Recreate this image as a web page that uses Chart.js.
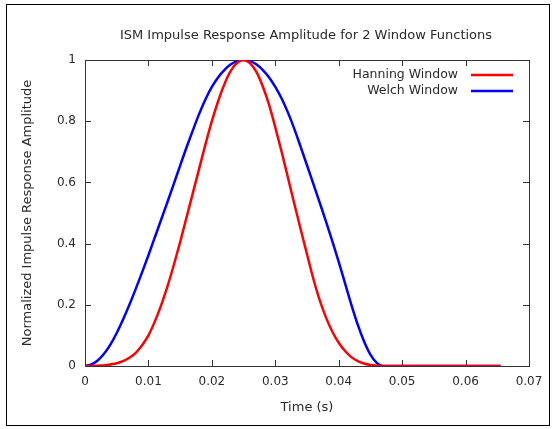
<!DOCTYPE html>
<html>
<head>
<meta charset="utf-8">
<script src="https://cdn.jsdelivr.net/npm/chart.js@4.4.1/dist/chart.umd.min.js"></script>
<style>
  body { margin: 0; background: #fff; }
</style>
</head>
<body>
<canvas id="myChart" width="555" height="429"></canvas>
<script>
// time axis (s)
const times = [0, 0.001, 0.002, 0.003, 0.004, 0.005, 0.006, 0.007, 0.008, 0.009,
  0.010, 0.011, 0.012, 0.013, 0.014, 0.015, 0.016, 0.017, 0.018, 0.019,
  0.020, 0.021, 0.022, 0.023, 0.024, 0.025, 0.026, 0.027, 0.028, 0.029,
  0.030, 0.031, 0.032, 0.033, 0.034, 0.035, 0.036, 0.037, 0.038, 0.039,
  0.040, 0.041, 0.042, 0.043, 0.044, 0.045, 0.046, 0.047, 0.048, 0.049,
  0.050, 0.051, 0.052, 0.053, 0.054, 0.055, 0.056, 0.057, 0.058, 0.059,
  0.060, 0.061, 0.062, 0.063, 0.064, 0.065, 0.0655];

const hanning = [0, 0, 0.001, 0.002, 0.005, 0.009, 0.016, 0.027, 0.043, 0.068,
  0.1, 0.145, 0.198, 0.26, 0.33, 0.405, 0.485, 0.565, 0.645, 0.725,
  0.8, 0.866, 0.922, 0.965, 0.991, 1.0, 0.99, 0.962, 0.915, 0.855,
  0.78, 0.7, 0.615, 0.53, 0.447, 0.365, 0.285, 0.215, 0.158, 0.112,
  0.076, 0.049, 0.029, 0.016, 0.008, 0.003, 0.001, 0, 0, 0,
  0, 0, 0, 0, 0, 0, 0, 0, 0, 0,
  0, 0, 0, 0, 0, 0, 0];

const welch = [0, 0.005, 0.018, 0.04, 0.07, 0.108, 0.152, 0.2, 0.252, 0.306,
  0.362, 0.42, 0.478, 0.536, 0.595, 0.655, 0.714, 0.77, 0.824, 0.872,
  0.912, 0.944, 0.968, 0.986, 0.9965, 1.0, 0.9965, 0.986, 0.968, 0.944,
  0.912, 0.874, 0.828, 0.775, 0.716, 0.656, 0.595, 0.534, 0.472, 0.407,
  0.34, 0.27, 0.2, 0.135, 0.08, 0.037, 0.01, 0, 0, 0,
  0, 0, 0, 0, 0, 0, 0, 0, 0, 0,
  0, 0, 0, 0, 0, 0, 0];

const xTicks = [0, 0.01, 0.02, 0.03, 0.04, 0.05, 0.06, 0.07];
const yTicks = [0, 0.2, 0.4, 0.6, 0.8, 1];

const FONT = 'DejaVu Sans';
const TEXT = '#2a2a2a';

function points(vals) {
  return times.map((t, i) => ({ x: t, y: vals[i] }));
}

// box, inward ticks, outer frame
const framePlugin = {
  id: 'frame',
  beforeDatasetsDraw(chart) {
    const { ctx, chartArea: a, scales: { x, y } } = chart;
    ctx.save();
    ctx.strokeStyle = '#333';
    ctx.lineWidth = 1;
    ctx.strokeRect(a.left + 0.5, a.top + 0.5, a.right - a.left, a.bottom - a.top);
    ctx.beginPath();
    xTicks.forEach(v => {
      const px = Math.round(x.getPixelForValue(v)) + 0.5;
      ctx.moveTo(px, a.bottom); ctx.lineTo(px, a.bottom - 6);
      ctx.moveTo(px, a.top); ctx.lineTo(px, a.top + 6);
    });
    yTicks.forEach(v => {
      const py = Math.round(y.getPixelForValue(v)) + 0.5;
      ctx.moveTo(a.left, py); ctx.lineTo(a.left + 6, py);
      ctx.moveTo(a.right, py); ctx.lineTo(a.right - 6, py);
    });
    ctx.stroke();
    ctx.strokeStyle = '#000';
    ctx.strokeRect(6.5, 4.5, 543, 421);
    ctx.restore();
  },
  afterDraw(chart) {
    const { ctx, chartArea: a } = chart;
    ctx.save();
    ctx.fillStyle = TEXT;
    ctx.font = '13px "' + FONT + '"';
    ctx.textAlign = 'center';
    ctx.textBaseline = 'middle';
    ctx.fillText('ISM Impulse Response Amplitude for 2 Window Functions', (a.left + a.right) / 2 - 1, 36);
    // legend
    ctx.font = '12.5px "' + FONT + '"';
    ctx.textAlign = 'right';
    chart.data.datasets.forEach((ds, i) => {
      const yy = a.top + 15 + i * 16;
      ctx.fillStyle = TEXT;
      ctx.fillText(ds.label, a.right - 71, yy);
      ctx.strokeStyle = ds.borderColor;
      ctx.lineWidth = 2.5;
      ctx.beginPath();
      ctx.moveTo(a.right - 58, yy);
      ctx.lineTo(a.right - 16, yy);
      ctx.stroke();
    });
    ctx.restore();
  }
};

const ctx = document.getElementById('myChart');
const myChart = new Chart(ctx, {
  type: 'scatter',
  data: {
    datasets: [{
      label: 'Hanning Window',
      data: points(hanning),
      borderColor: '#ff0000',
      borderWidth: 2.5,
      showLine: true,
      pointRadius: 0,
      cubicInterpolationMode: 'monotone'
    }, {
      label: 'Welch Window',
      data: points(welch),
      borderColor: '#0000ff',
      borderWidth: 2.5,
      showLine: true,
      pointRadius: 0,
      cubicInterpolationMode: 'monotone'
    }]
  },
  options: {
    responsive: false,
    animation: false,
    layout: { padding: { top: 60, right: 26, bottom: 0, left: 0 } },
    plugins: {
      legend: { display: false },
      title: { display: false },
      tooltip: { enabled: false }
    },
    scales: {
      x: {
        type: 'linear',
        min: 0,
        max: 0.07,
        afterFit(scale) { scale.height = 63; },
        afterBuildTicks(scale) { scale.ticks = xTicks.map(v => ({ value: v })); },
        grid: { display: false, drawTicks: false },
        border: { display: false },
        ticks: {
          padding: 9,
          color: TEXT,
          font: { family: FONT, size: 12 },
          maxRotation: 0,
          callback: v => String(+v.toFixed(2))
        },
        title: {
          display: true,
          text: 'Time (s)',
          color: TEXT,
          font: { family: FONT, size: 13 },
          padding: { top: 0, bottom: 14 }
        }
      },
      y: {
        min: 0,
        max: 1,
        afterFit(scale) { scale.width = 85; },
        afterBuildTicks(scale) { scale.ticks = yTicks.map(v => ({ value: v })); },
        grid: { display: false, drawTicks: false },
        border: { display: false },
        ticks: {
          padding: 9,
          color: TEXT,
          font: { family: FONT, size: 12 },
          callback: v => String(+v.toFixed(1))
        },
        title: {
          display: true,
          text: 'Normalized Impulse Response Amplitude',
          color: TEXT,
          font: { family: FONT, size: 13 },
          padding: { top: 20, bottom: 0 }
        }
      }
    }
  },
  plugins: [framePlugin]
});
</script>
</body>
</html>
